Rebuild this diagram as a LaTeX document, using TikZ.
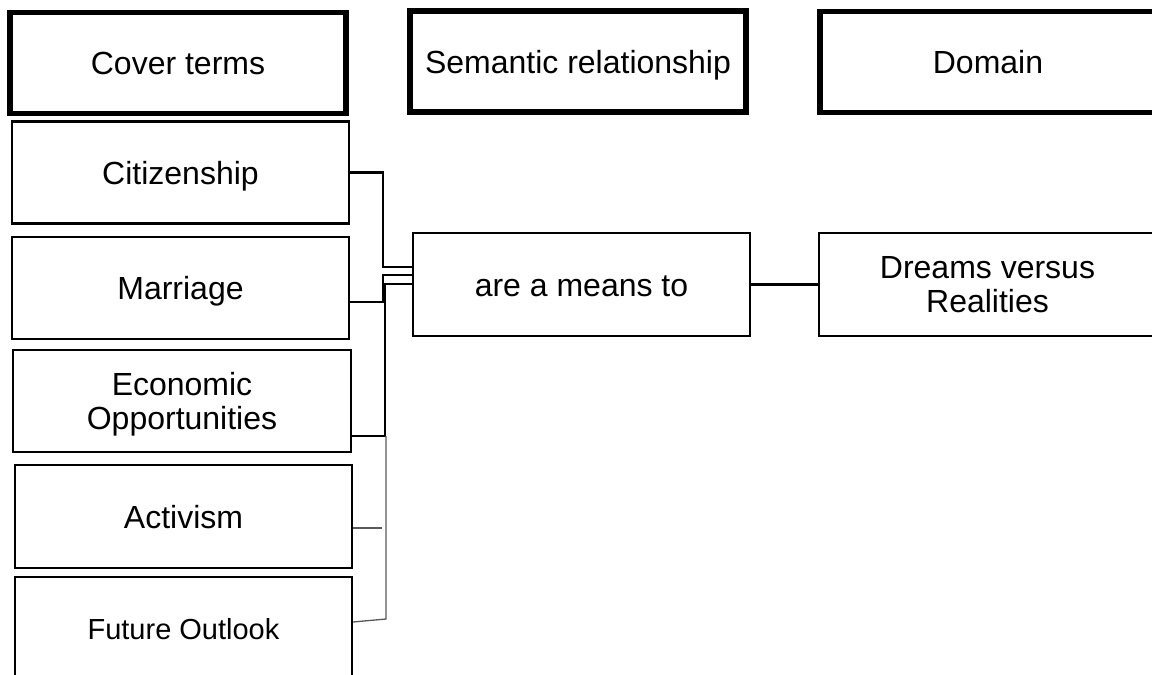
\documentclass[tikz,border=0pt]{standalone}
\usepackage{fontspec}
\setmainfont{Liberation Sans}
\begin{document}
\begin{tikzpicture}[x=1pt,y=-1pt,
  head/.style={draw=black,line width=5.5pt,fill=white,inner sep=0pt,
    minimum width=336pt,minimum height=101pt,align=center,
    font=\fontsize{32}{34}\selectfont},
  term/.style={draw=black,line width=2.2pt,fill=white,inner sep=0pt,
    minimum width=337pt,minimum height=102pt,align=center,
    font=\fontsize{32}{34}\selectfont},
  oneline/.style={text height=23pt,text depth=0pt},
  conn/.style={draw=black,line width=2.5pt},
  thinconn/.style={draw=black!65,line width=1.3pt}]
\useasboundingbox (0,0) rectangle (1152,675);
\begin{scope}
\clip (0,0) rectangle (1152,675);
% column headings
\node[head,oneline] (cover) at (178,63) {Cover terms};
\node[head,oneline] (sem) at (578,61.5) {Semantic relationship};
\node[head,oneline] (dom) at (988,62) {Domain};
% cover terms
\node[term,oneline] (cit) at (180.5,172.5) {Citizenship};
\node[term,oneline] (mar) at (180.5,288) {Marriage};
\node[term,minimum width=338pt,text depth=0pt] (eco) at (182,401) {Economic\\Opportunities};
\node[term,oneline,minimum height=103pt] (act) at (183.5,516.5) {Activism};
\node[term,minimum height=103pt,text height=21pt,text depth=0pt,
  font=\fontsize{29}{31}\selectfont] (fut) at (183.5,628.5) {Future Outlook};
% relationship and domain
\node[term,minimum height=103pt,text height=23pt,text depth=0pt] (rel) at (581.5,284.5) {are a means to};
\node[term,minimum height=103pt] (dream) at (987.5,284.5) {Dreams versus\\Realities};
% junction points
\coordinate (ja) at (383,267);
\coordinate (jb) at (383,275);
\coordinate (jc) at (385,284);
\coordinate (jd) at (382,528);
\coordinate (je) at (386,619);
\coordinate (jf) at (386,436);
% connectors
\draw[conn] (cit.east) -| (ja) -- (ja -| rel.west);
\draw[conn] ([yshift=-14pt]mar.east) -| (jb) -- (jb -| rel.west);
\draw[conn] ([yshift=-35pt]eco.east) -| (jc) -- (jc -| rel.west);
\draw[thinconn] ([yshift=-11.5pt]act.east) -- (jd);
\draw[thinconn] ([yshift=6.5pt]fut.east) -- (je) -- (jf);
\draw[conn] (rel) -- (dream);
\end{scope}
\end{tikzpicture}
\end{document}
